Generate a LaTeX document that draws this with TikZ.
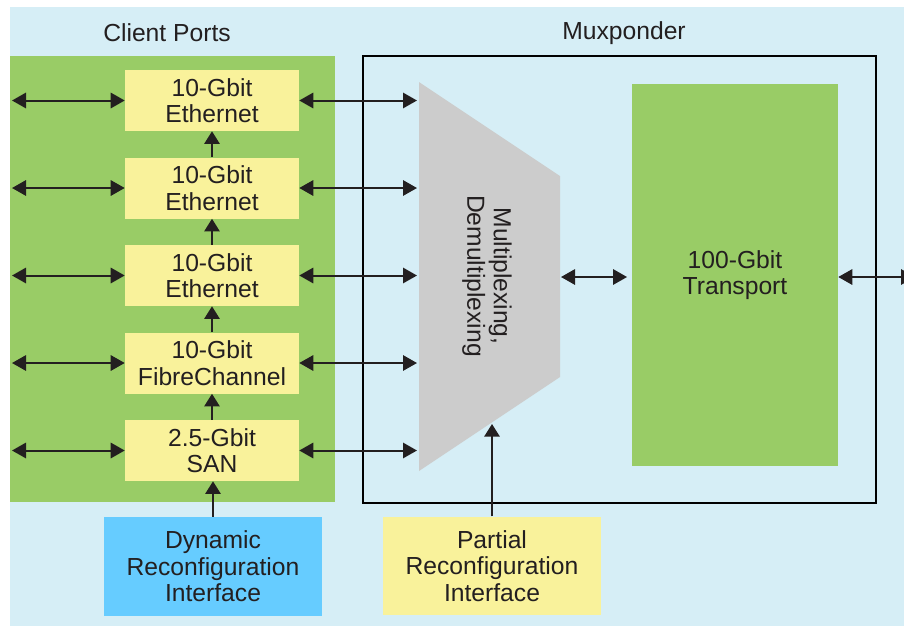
\documentclass[tikz,border=0pt]{standalone}
\usepackage{fontspec}
\setmainfont{Liberation Sans}
\usetikzlibrary{arrows.meta}

\definecolor{bgblue}{HTML}{D6EEF6}
\definecolor{portgreen}{HTML}{99CC66}
\definecolor{portyellow}{HTML}{F9F29B}
\definecolor{muxgray}{HTML}{CCCCCC}
\definecolor{dynblue}{HTML}{66CCFF}
\definecolor{inkdark}{HTML}{231F20}

\tikzset{
	every node/.style={font=\fontsize{18.5}{19.8}\selectfont, text=inkdark, align=center, inner sep=0pt},
	port/.style={fill=portyellow, minimum width=130.5pt, minimum height=45.75pt},
	iface/.style={minimum width=163.5pt, minimum height=74pt},
	biarrow/.style={draw=inkdark, line width=1.5pt, {Triangle[length=10.5pt,width=11.5pt]}-{Triangle[length=10.5pt,width=11.5pt]}},
	uparrow/.style={draw=inkdark, line width=1.5pt, -{Triangle[length=9.5pt,width=11.5pt]}}
}

\begin{document}
\begin{tikzpicture}[x=0.75pt,y=0.75pt,yscale=-1,xscale=1]
		\useasboundingbox (0,0) rectangle (904,626);
		
		% background and panels
		\fill[bgblue] (10,7) rectangle (904,626);
		\fill[portgreen] (10,56) rectangle (335,502);
		\draw[line width=1.5pt] (363,56) rectangle (876,503);
		
		% titles
		\node (cptitle) at (167,33) {Client Ports};
		\node (muxtitle) at (624,33) {Muxponder};
		
		% client port boxes
		\node[port] (p1) at (212,100.5) {10-Gbit\\Ethernet};
		\node[port] (p2) at (212,188) {10-Gbit\\Ethernet};
		\node[port] (p3) at (212,275.5) {10-Gbit\\Ethernet};
		\node[port] (p4) at (212,363) {10-Gbit\\FibreChannel};
		\node[port] (p5) at (212,450.5) {2.5-Gbit\\SAN};
		
		% multiplexer shape
		\coordinate (mtl) at (419,82);
		\coordinate (mtr) at (560,176);
		\coordinate (mbr) at (560,377);
		\coordinate (mbl) at (419,471);
		\fill[muxgray] (mtl) -- (mtr) -- (mbr) -- (mbl) -- cycle;
		\node[rotate=-90] (mux) at (487,276) {Multiplexing,\\Demultiplexing};
		
		% transport
		\node[fill=portgreen, minimum width=154.5pt, minimum height=286.5pt] (tr) at (735,275) {100-Gbit\\Transport};
		
		% interfaces
		\node[iface, fill=dynblue] (dyn) at (213,566.5) {Dynamic\\Reconfiguration\\Interface};
		\node[iface, fill=portyellow] (pri) at (492,566) {Partial\\Reconfiguration\\Interface};
		
		% free ends
		\coordinate (lend) at (12,0);
		\coordinate (muxin) at (417,0);
		\coordinate (muxout) at (561,277);
		\coordinate (lineout) at (915,277);
		\coordinate (prtip) at (492,424);
		
		% port connectors
		\foreach \p in {p1,p2,p3,p4,p5}{
			\draw[biarrow] (\p -| lend) -- (\p);
			\draw[biarrow] (\p) -- (\p -| muxin);
		}
		\foreach \a/\b in {p5/p4,p4/p3,p3/p2,p2/p1}
			\draw[uparrow] (\a) -- (\b);
		
		% mux connectors
		\draw[biarrow, shorten >=3.5pt] (muxout) -- (tr.west |- muxout);
		\draw[biarrow] (tr.east |- lineout) -- (lineout);
		\draw[uparrow] (dyn.north) -- (dyn.north |- p5.south);
		\draw[uparrow] (pri.north) -- (prtip);
		
\end{tikzpicture}
\end{document}
